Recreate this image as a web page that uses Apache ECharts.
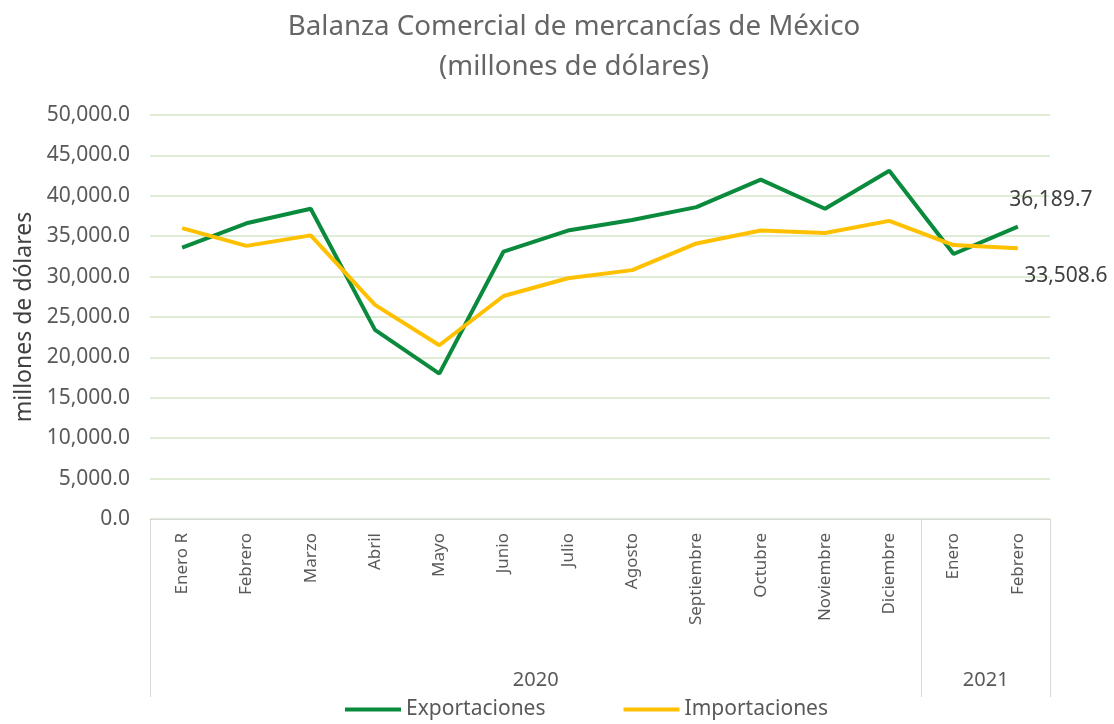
<!DOCTYPE html>
<html>
<head>
<meta charset="utf-8">
<script src="https://cdn.jsdelivr.net/npm/echarts@6/dist/echarts.min.js"></script>
<style>
  html, body { margin: 0; padding: 0; background: #fff; }
  #chart { width: 1114px; height: 724px; }
</style>
</head>
<body>
<div id="chart"></div>
<script>
// meses (eje de categorias)
var months = ["Enero R", "Febrero", "Marzo", "Abril", "Mayo", "Junio", "Julio",
  "Agosto", "Septiembre", "Octubre", "Noviembre", "Diciembre", "Enero", "Febrero"];
// grupos de años y cuantos meses abarca cada uno
var years = ["2020", "2021"];
var yearSpans = [12, 2];
// millones de dolares
var exportaciones = [33600, 36600, 38400, 23400, 18000, 33100, 35700,
  37000, 38600, 42000, 38400, 43100, 32800, 36189.7];
var importaciones = [36000, 33800, 35100, 26500, 21500, 27600, 29800,
  30800, 34100, 35700, 35400, 36900, 33900, 33508.6];

var textColor = "#595959";
var fontName = "Noto Sans";

function fmt(v) {
  return Number(v).toLocaleString("en-US", { minimumFractionDigits: 1, maximumFractionDigits: 1 });
}

// posiciones de separadores y etiquetas de año sobre el eje de valores auxiliar
var sepValues = [0];
var yearCenters = [];
var acc = 0;
for (var i = 0; i < yearSpans.length; i++) {
  yearCenters.push(acc + yearSpans[i] / 2);
  acc += yearSpans[i];
  sepValues.push(acc);
}

// solo el ultimo punto lleva etiqueta
function lastLabel(arr, pos, offset) {
  return arr.map(function (v, idx) {
    if (idx !== arr.length - 1) return v;
    return {
      value: v,
      label: {
        show: true, position: pos, offset: offset,
        formatter: function (p) { return fmt(p.value); },
        color: "#404040", fontSize: 21, fontFamily: fontName
      }
    };
  });
}

var chart = echarts.init(document.getElementById("chart"));
var option = {
  animation: false,
  title: {
    text: "Balanza Comercial de mercancías de México\n(millones de dólares)",
    left: 569,
    top: 2,
    textAlign: "center",
    textStyle: { color: "#666", fontSize: 27.7, fontWeight: "normal", fontFamily: fontName, lineHeight: 40 }
  },
  legend: {
    bottom: -1,
    left: 340,
    itemGap: 78,
    itemWidth: 56,
    itemHeight: 4,
    icon: "rect",
    textStyle: { color: textColor, fontSize: 21, fontFamily: fontName },
    data: ["Exportaciones", "Importaciones"]
  },
  grid: { left: 150, right: 64, top: 115, bottom: 205, containLabel: false },
  xAxis: [
    {
      type: "category",
      data: months,
      boundaryGap: true,
      axisLine: { lineStyle: { color: "#d9d9d9", width: 1 } },
      axisTick: { show: false },
      axisLabel: {
        rotate: 90, interval: 0, margin: 14,
        color: textColor, fontSize: 17, fontFamily: fontName
      }
    },
    {
      type: "value",
      min: 0,
      max: acc,
      position: "bottom",
      axisLine: { show: false },
      splitLine: { show: false },
      axisTick: {
        show: true, inside: false, length: 178,
        customValues: sepValues,
        lineStyle: { color: "#d9d9d9" }
      },
      axisLabel: {
        margin: 151,
        customValues: yearCenters,
        formatter: function (v) {
          var k = yearCenters.indexOf(v);
          return k >= 0 ? years[k] : "";
        },
        color: textColor, fontSize: 20, fontFamily: fontName
      }
    }
  ],
  yAxis: {
    type: "value",
    min: 0,
    max: 50000,
    interval: 5000,
    name: "millones de dólares",
    nameLocation: "middle",
    nameGap: 114,
    nameTextStyle: { color: "#404040", fontSize: 23, fontFamily: fontName },
    axisLine: { show: false },
    axisTick: { show: false },
    axisLabel: {
      margin: 20, color: textColor, fontSize: 21, fontFamily: fontName,
      formatter: function (v) { return fmt(v); }
    },
    splitLine: { lineStyle: { color: "#d4e6c8", width: 1.5 } }
  },
  series: [
    {
      name: "Exportaciones",
      type: "line",
      xAxisIndex: 0,
      data: lastLabel(exportaciones, "top", [33, -11]),
      symbol: "circle",
      symbolSize: 0,
      showSymbol: true,
      lineStyle: { width: 4, color: "#0a8a3c" },
      itemStyle: { color: "#0a8a3c" }
    },
    {
      name: "Importaciones",
      type: "line",
      xAxisIndex: 0,
      data: lastLabel(importaciones, "bottom", [48, 12]),
      symbol: "circle",
      symbolSize: 0,
      showSymbol: true,
      lineStyle: { width: 4, color: "#ffc000" },
      itemStyle: { color: "#ffc000" }
    }
  ]
};
chart.setOption(option);
</script>
</body>
</html>
